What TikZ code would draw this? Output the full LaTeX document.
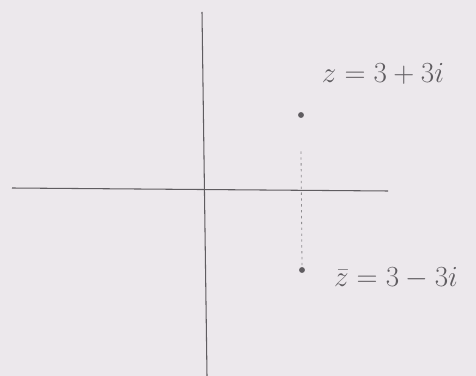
\documentclass[tikz,border=0pt]{standalone}
\usepackage{amsmath, amssymb}
\usepackage{xcolor}
\usepackage{tikz}
\usetikzlibrary{positioning, calc, backgrounds}

\definecolor{paper}{RGB}{236,232,236}
\definecolor{pencil}{RGB}{95,92,96}

\begin{document}
\begin{tikzpicture}[
    x=0.03cm, y=-0.03cm,
    axis/.style={draw=pencil, line width=0.9pt},
    pt/.style={circle, fill=pencil, inner sep=0pt, minimum size=5pt},
    guide/.style={draw=pencil!70, dash pattern=on 2pt off 3pt, line width=0.7pt},
    lbl/.style={text=pencil, font=\fontsize{25}{29}\selectfont, inner sep=0pt}
]

% Background
\fill[paper] (0,0) rectangle (476,376);
\useasboundingbox (0,0) rectangle (476,376);

% Axes
\coordinate (xl) at (12,188);
\coordinate (xr) at (388,191);
\coordinate (yt) at (202,12);
\coordinate (yb) at (207,376);
\draw[axis] (xl) -- (xr);
\draw[axis] (yt) -- (yb);

% Points
\node (z) [pt] at (301,115) {};
\node (zbar) [pt] at (302,270) {};
\draw[guide] ([yshift=-1cm]z.south) -- (zbar.north);

% Labels
\node (zlbl) [lbl] at (383,74) {$z=3+3i$};
\node (zbarlbl) [lbl] at (396,278) {$\bar{z}=3-3i$};

\end{tikzpicture}
\end{document}
